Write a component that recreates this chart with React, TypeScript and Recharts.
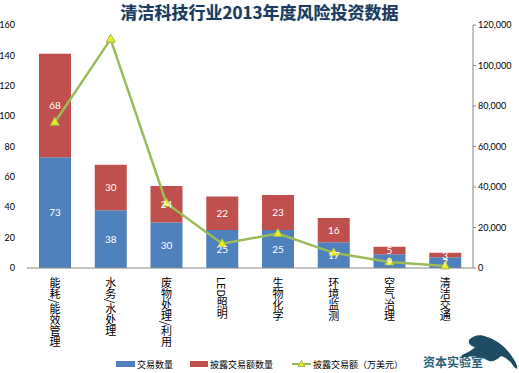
import React from "react"
import { ComposedChart, Bar, Line, XAxis, YAxis, LabelList, Legend } from "recharts"

const categories = ["能耗/能效管理", "水务/水处理", "废物处理/利用", "LED照明", "生物化学", "环境监测", "空气治理", "清洁交通"]
const dealCount = [73, 38, 30, 25, 25, 17, 9, 7]
const disclosedCount = [68, 30, 24, 22, 23, 16, 5, 3]
const disclosedAmount = [72000, 113000, 32000, 12000, 17000, 7500, 3000, 1000]
const leftTicks = [0, 20, 40, 60, 80, 100, 120, 140, 160]
const rightTicks = [0, 20000, 40000, 60000, 80000, 100000, 120000]

const data = categories.map((name, i) => ({
  name,
  交易数量: dealCount[i],
  披露交易额数量: disclosedCount[i],
  披露交易额: disclosedAmount[i],
}))

const FONT = "Lato, 'Noto Sans CJK SC', sans-serif"
const CJK = "'Noto Sans CJK SC', sans-serif"

const XTick = (props: any) => {
  const { x, y, payload } = props
  return (
    <text
      x={x}
      y={y + 1}
      fontSize={11}
      fill="#000"
      fontFamily={CJK}
      style={{ writingMode: "vertical-rl" } as any}
    >
      {payload.value}
    </text>
  )
}

const Triangle = (props: any) => {
  const { cx, cy } = props
  if (cx == null || cy == null) return null
  return (
    <path
      d={`M${cx},${cy - 5} L${cx + 4.5},${cy + 3} L${cx - 4.5},${cy + 3} Z`}
      fill="#E8EC1A"
      stroke="#9BBB59"
      strokeWidth={1}
    />
  )
}

const LegendContent = () => (
  <div style={{ display: "flex", alignItems: "center", height: 16, fontSize: 9, fontFamily: CJK, color: "#000", paddingLeft: 116 }}>
    <span style={{ display: "inline-block", width: 19, height: 6, background: "#4F81BD", marginRight: 2 }} />
    <span style={{ marginRight: 17 }}>交易数量</span>
    <span style={{ display: "inline-block", width: 18, height: 6, background: "#C0504D", marginRight: 2 }} />
    <span style={{ marginRight: 19 }}>披露交易额数量</span>
    <svg width={19} height={10} style={{ marginRight: 2 }}>
      <line x1={0} y1={5} x2={19} y2={5} stroke="#9BBB59" strokeWidth={2} />
      <path d="M9.5,1.5 L13,7.5 L6,7.5 Z" fill="#E8EC1A" stroke="#9BBB59" strokeWidth={1} />
    </svg>
    <span>披露交易额（万美元）</span>
  </div>
)

export default function App() {
  return (
    <div style={{ position: "absolute", left: 0, top: 0, width: 519, height: 373, background: "#fff" }}>
      <div
        style={{
          position: "absolute",
          left: 0,
          top: 0,
          width: 519,
          textAlign: "center",
          fontSize: 17,
          lineHeight: "24px",
          fontWeight: 700,
          color: "#1F3A5F",
          fontFamily: CJK,
          textShadow: "0 0 1px #8aa",
        }}
      >
        清洁科技行业2013年度风险投资数据
      </div>
      <ComposedChart
        width={519}
        height={373}
        data={data}
        margin={{ top: 25, right: 0, bottom: 1, left: 0 }}
        style={{ fontFamily: FONT }}
      >
        <XAxis
          dataKey="name"
          tick={<XTick />}
          tickLine={false}
          axisLine={{ stroke: "#868686" }}
          height={88}
          interval={0}
        />
        <YAxis
          yAxisId="left"
          domain={[0, 160]}
          ticks={leftTicks}
          width={27}
          axisLine={false}
          tickLine={false}
          tick={{ fontSize: 9, fill: "#000" }}
          tickMargin={6}
        />
        <YAxis
          yAxisId="right"
          orientation="right"
          domain={[0, 120000]}
          ticks={rightTicks}
          width={46}
          axisLine={{ stroke: "#868686" }}
          tickLine={{ stroke: "#868686" }}
          tickSize={3}
          tick={{ fontSize: 9, fill: "#000" }}
          tickFormatter={(v: number) => v.toLocaleString("en-US")}
        />
        <Legend verticalAlign="bottom" height={16} content={<LegendContent />} />
        <Bar yAxisId="left" dataKey="交易数量" stackId="a" fill="#4F81BD" barSize={32} isAnimationActive={false}>
          <LabelList dataKey="交易数量" position="center" fill="#fff" fontSize={10} />
        </Bar>
        <Bar yAxisId="left" dataKey="披露交易额数量" stackId="a" fill="#C0504D" barSize={32} isAnimationActive={false}>
          <LabelList dataKey="披露交易额数量" position="center" fill="#fff" fontSize={10} />
        </Bar>
        <Line
          yAxisId="right"
          dataKey="披露交易额"
          type="linear"
          stroke="#9BBB59"
          strokeWidth={2.5}
          dot={<Triangle />}
          activeDot={false}
          isAnimationActive={false}
        />
      </ComposedChart>
      <div
        style={{
          position: "absolute",
          left: 423,
          top: 355,
          fontSize: 12,
          fontWeight: 700,
          color: "#2D5F7A",
          fontFamily: CJK,
          lineHeight: "14px",
        }}
      >
        资本实验室
      </div>
      <svg width={60} height={36} style={{ position: "absolute", left: 459, top: 334 }}>
        <path
          d="M10,6 C14,1 22,0 28,3 C38,6 48,14 54,24 C57,29 59,32 58,35 L55,33 C52,28 48,24 42,22 C38,26 34,28 30,27 L24,24 C18,22 10,22 2,24 L3,21 C9,18 14,16 16,13 C12,12 9,10 10,6 Z"
          fill="#1E4D63"
        />
      </svg>
    </div>
  )
}
